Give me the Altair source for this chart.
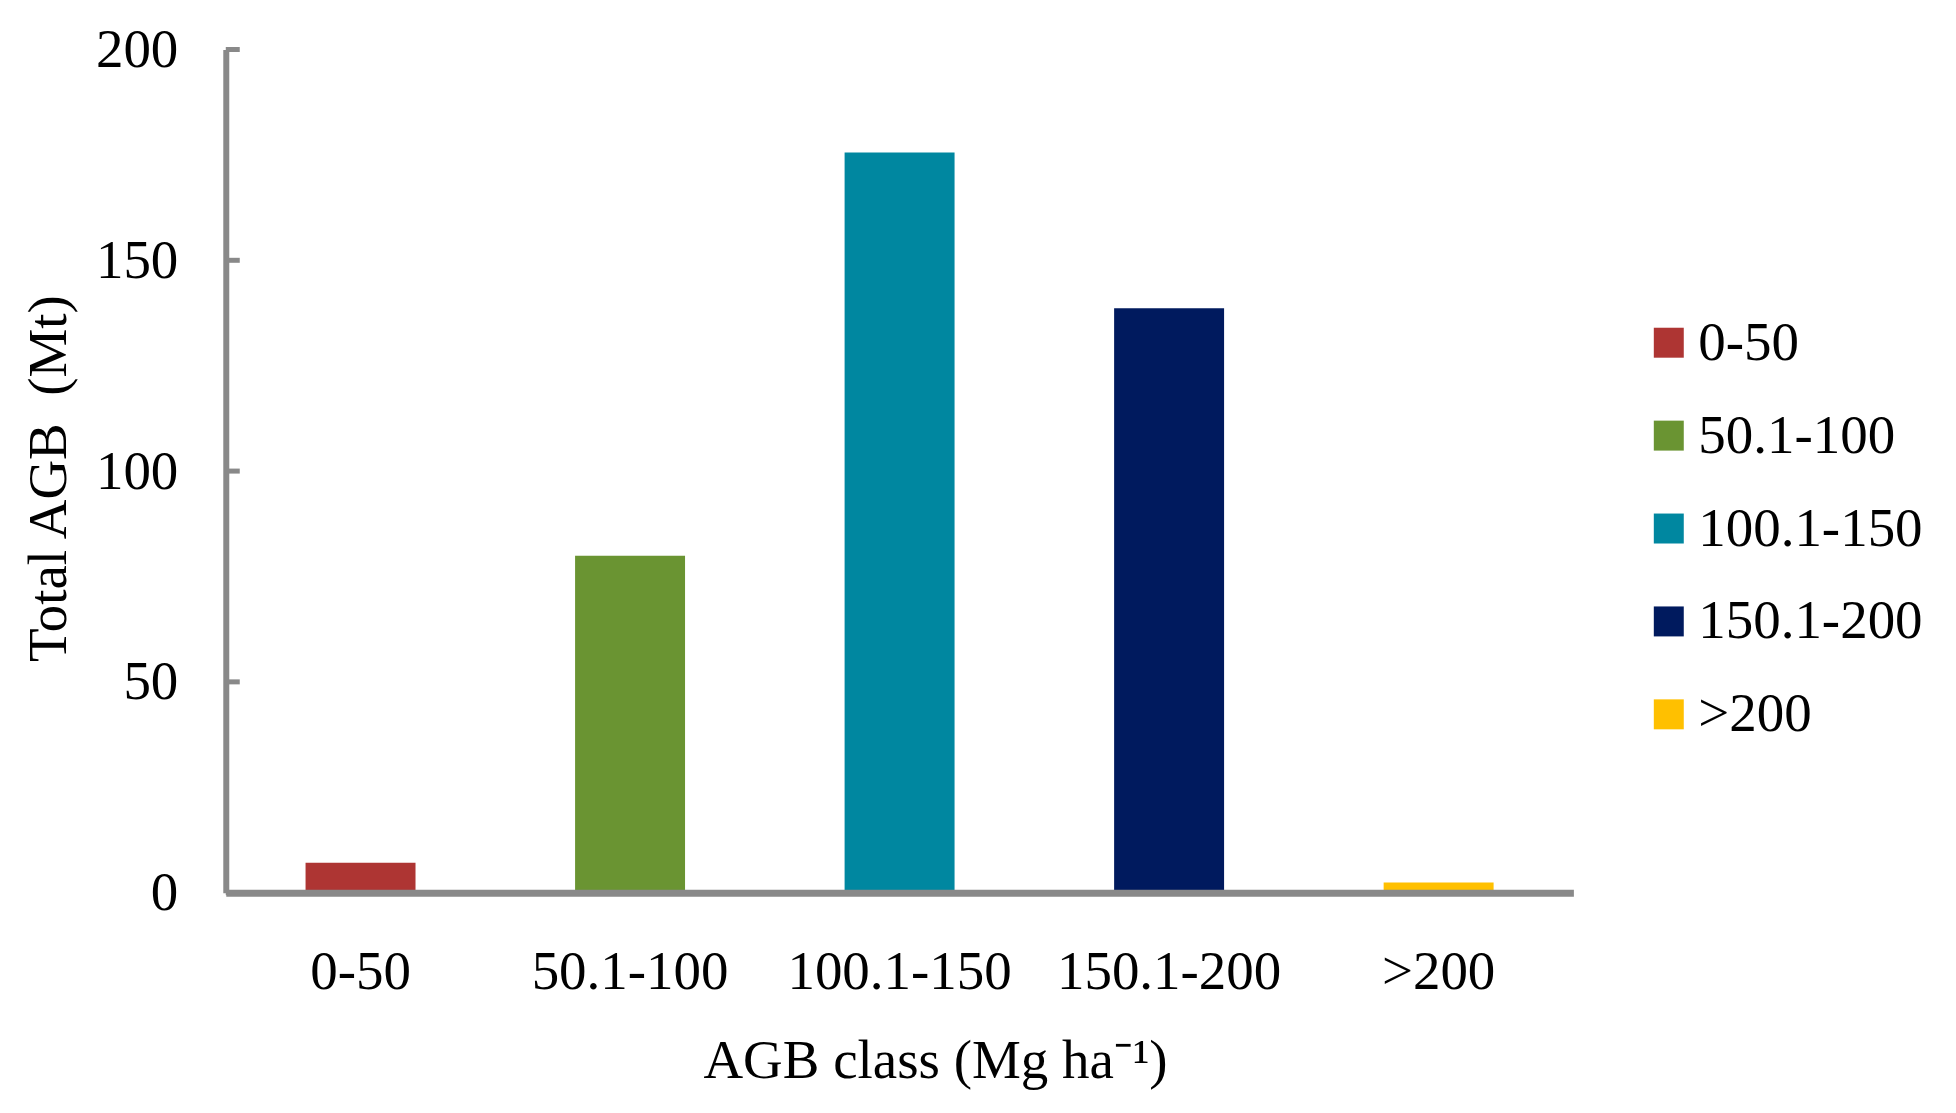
import altair as alt
import pandas as pd

categories = ["0-50", "50.1-100", "100.1-150", "150.1-200", ">200"]
values = [7.1, 79.9, 175.6, 138.6, 2.4]
colors = ["#AE3533", "#6A9432", "#0087A0", "#001A5E", "#FFC000"]
y_ticks = [0, 50, 100, 150, 200]

df = pd.DataFrame({"cls": categories, "val": values})
tick_df = pd.DataFrame({"v": y_ticks})

GRAY = "#898989"
FONT = "Liberation Serif"
FS = 55

yscale = alt.Scale(domain=[0, 200], nice=False)

bars = alt.Chart(df).mark_bar().encode(
    x=alt.X(
        "cls:N",
        sort=categories,
        scale=alt.Scale(paddingInner=0.592, paddingOuter=0.296),
        axis=alt.Axis(
            title="AGB class (Mg ha\u207B\u00B9)",
            labelAngle=0,
            ticks=False,
            tickSize=0,
            labelPadding=53,
            labelLimit=0,
            labelFont=FONT,
            labelFontSize=FS,
            labelColor="black",
            domainColor=GRAY,
            domainWidth=7,
            titleFont=FONT,
            titleFontSize=FS,
            titleFontWeight="normal",
            titleColor="black",
            titleX=710,
            titleY=185,
            titleBaseline="alphabetic",
            titleAlign="center",
            zindex=1,
        ),
    ),
    y=alt.Y(
        "val:Q",
        scale=yscale,
        axis=alt.Axis(
            values=y_ticks,
            title="Total AGB\u00A0 (Mt)",
            grid=False,
            ticks=False,
            tickSize=0,
            labelPadding=48,
            labelFont=FONT,
            labelFontSize=FS,
            labelColor="black",
            domainColor=GRAY,
            domainWidth=6,
            titleFont=FONT,
            titleFontSize=FS,
            titleFontWeight="normal",
            titleColor="black",
            titleAngle=270,
            titleX=-177,
            titleY=429,
            titleBaseline="middle",
            titleAlign="center",
            zindex=1,
        ),
    ),
    color=alt.Color(
        "cls:N",
        sort=categories,
        scale=alt.Scale(domain=categories, range=colors),
        legend=alt.Legend(
            title=None,
            orient="none",
            legendX=1417,
            legendY=266,
            symbolType="square",
            symbolSize=900,
            symbolStrokeWidth=0,
            labelFont=FONT,
            labelFontSize=FS,
            labelColor="black",
            labelOffset=2,
            labelLimit=0,
            rowPadding=37,
        ),
    ),
)

ticks = alt.Chart(tick_df).mark_rule(color=GRAY, strokeWidth=5).encode(
    y=alt.Y("v:Q", scale=yscale),
    x=alt.value(0),
    x2=alt.value(14),
)

chart = alt.layer(bars, ticks).properties(
    width=1349,
    height=844,
    background="white",
    autosize=alt.AutoSizeParams(type="none"),
    padding={"left": 218, "top": 41, "right": 375, "bottom": 205},
).configure_view(stroke=None, strokeWidth=0)

chart.save("out.html", embed_options={"renderer": "svg", "actions": False})
